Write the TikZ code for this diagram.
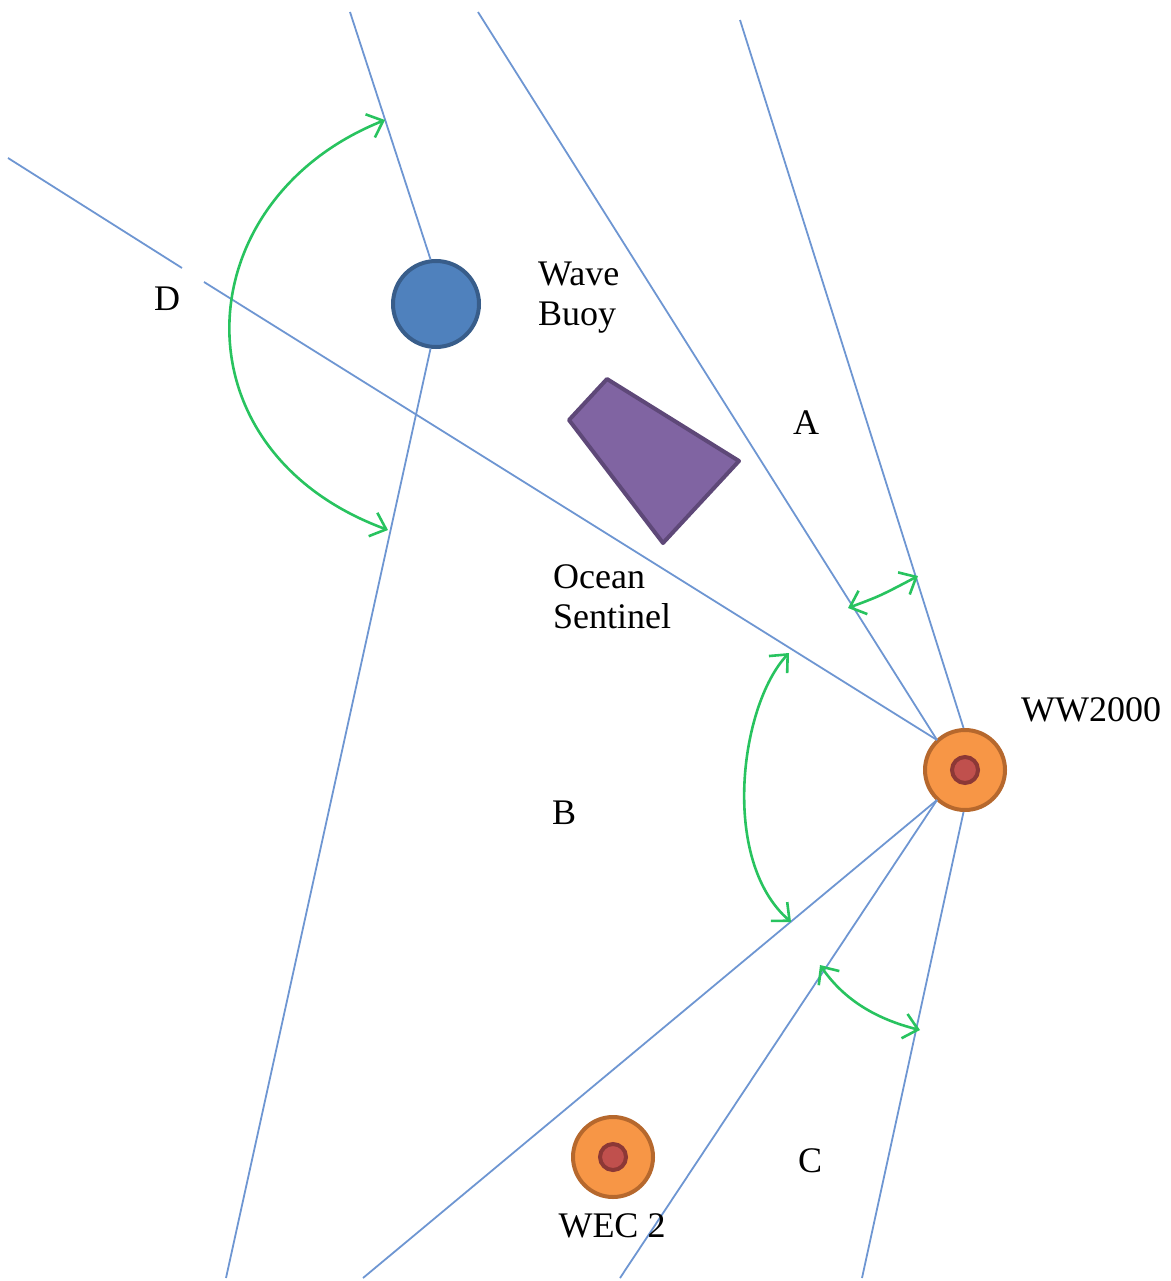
\documentclass[tikz,border=0pt]{standalone}
\usepackage{fontspec}
\setmainfont{Liberation Serif}
\usetikzlibrary{arrows.meta}
\definecolor{raycol}{RGB}{110,150,210}
\definecolor{arccol}{RGB}{40,195,95}
\definecolor{buoyfill}{RGB}{79,129,189}
\definecolor{buoyline}{RGB}{56,93,138}
\definecolor{orfill}{RGB}{247,150,70}
\definecolor{orline}{RGB}{182,104,45}
\definecolor{redfill}{RGB}{192,80,77}
\definecolor{redline}{RGB}{140,56,54}
\definecolor{purfill}{RGB}{128,100,162}
\definecolor{purline}{RGB}{94,72,120}
\begin{document}
\begin{tikzpicture}[x=1pt,y=-1pt,
  ray/.style={draw=raycol,line width=1.8pt},
  sweep/.style={draw=arccol,line width=2.6pt,{Straight Barb[length=14pt,width=25pt,line width=2.6pt]}-{Straight Barb[length=14pt,width=25pt,line width=2.6pt]}},
  lbl/.style={font=\fontsize{36}{40}\selectfont,inner sep=0pt,align=left},
  wec/.style={circle,minimum size=80pt,inner sep=0pt,draw=orline,line width=4pt,fill=orfill},
  core/.style={circle,minimum size=26pt,inner sep=0pt,draw=redline,line width=4pt,fill=redfill}]
\useasboundingbox (0,0) rectangle (1170,1281);

% devices
\node[circle,minimum size=86pt,inner sep=0pt,draw=buoyline,line width=4pt,fill=buoyfill] (buoy) at (436,304) {};
\node[wec] (ww) at (965,770) {};
\node[core] (wwc) at (965,770) {};
\node[wec] (wec2) at (613,1157) {};
\node[core] (wec2c) at (613,1157) {};

% ocean sentinel
\coordinate (p1) at (607,379);
\coordinate (p2) at (569,420);
\coordinate (p3) at (663,543);
\coordinate (p4) at (739,461);
\draw[draw=purline,fill=purfill,line width=4pt,line join=round] (p1) -- (p2) -- (p3) -- (p4) -- cycle;

% ray end points
\coordinate (b1) at (350,12);
\coordinate (b2) at (226,1278);
\coordinate (r1) at (478,12);
\coordinate (r2) at (740,20);
\coordinate (d1) at (8,158);
\coordinate (d2) at (182,268);
\coordinate (d3) at (204,282);
\coordinate (s1) at (363,1278);
\coordinate (s2) at (620,1278);
\coordinate (s3) at (862,1278);
\coordinate (wwa) at (937,740);
\coordinate (wwb) at (937,800);

% rays
\draw[ray] (b1) -- (buoy.97);
\draw[ray] (buoy.263) -- (b2);
\draw[ray] (r1) -- (wwa);
\draw[ray] (r2) -- (ww.92);
\draw[ray] (d1) -- (d2);
\draw[ray] (d3) -- (wwa);
\draw[ray] (wwb) -- (s1);
\draw[ray] (wwb) -- (s2);
\draw[ray] (ww.268) -- (s3);

% sweep arcs
\coordinate (aD1) at (385,120);
\coordinate (aD2) at (388,530);
\coordinate (aA1) at (848,608);
\coordinate (aA2) at (918,576);
\coordinate (aB1) at (789,653);
\coordinate (aB2) at (791,922);
\coordinate (aC1) at (820,965);
\coordinate (aC2) at (920,1030);
\draw[sweep] (aD1) .. controls (185,200) and (171,450) .. (aD2);
\draw[sweep] (aA1) .. controls (880,596) .. (aA2);
\draw[sweep] (aB1) .. controls (740,705) and (720,860) .. (aB2);
\draw[sweep] (aC1) .. controls (842,997) and (872,1018) .. (aC2);

% labels
\node[lbl,anchor=west] (tbuoy) at (538,298) {Wave\\Buoy};
\node[lbl] (tD) at (167,299) {D};
\node[lbl] (tA) at (806,423) {A};
\node[lbl,anchor=west] (tos) at (553,597) {Ocean\\Sentinel};
\node[lbl] (tww) at (1091,710) {WW2000};
\node[lbl] (tB) at (564,813) {B};
\node[lbl] (tC) at (810,1161) {C};
\node[lbl] (twec) at (612,1226) {WEC 2};
\end{tikzpicture}
\end{document}
